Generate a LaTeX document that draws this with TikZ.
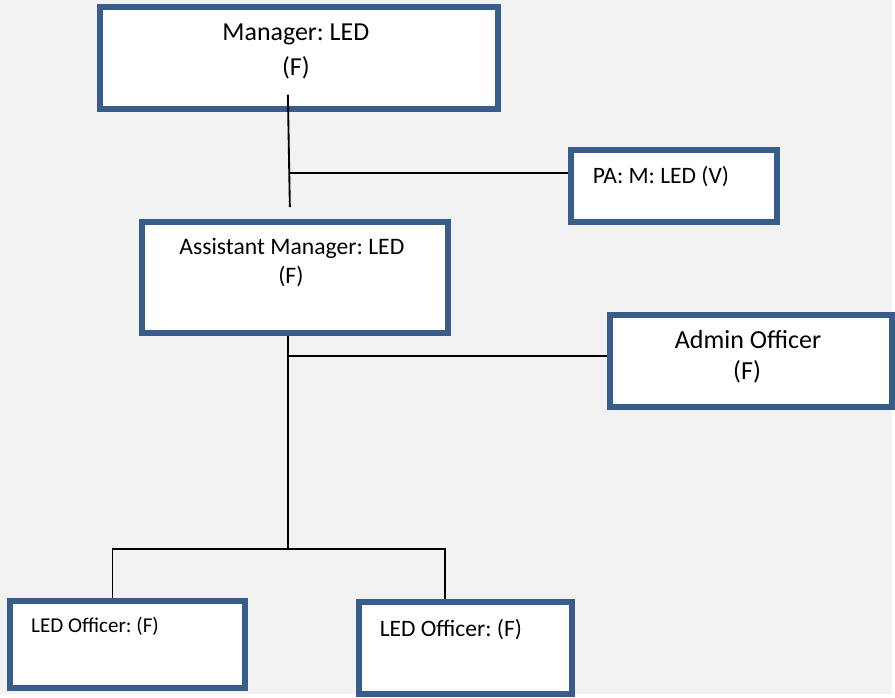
\documentclass[tikz,border=0pt]{standalone}
\usepackage{fontspec}
\setmainfont{Carlito}
\frenchspacing
\definecolor{boxblue}{HTML}{385D8A}
\definecolor{pagegrey}{HTML}{F2F2F2}

\begin{document}
\begin{tikzpicture}[x=0.75pt,y=-0.75pt,
    post/.style={draw=boxblue, line width=4.5pt, fill=white, inner sep=0pt, anchor=north west},
    link/.style={line width=1.4pt},
    txt/.style={inner sep=0pt, anchor=base},
    txtl/.style={inner sep=0pt, anchor=base west}]

        \fill[pagegrey] (0,0) rectangle (895,697);

        % boxes
        \node[post, minimum width=400*0.75pt, minimum height=101.5*0.75pt] (mgr) at (97,4.5) {};
        \node[post, minimum width=207*0.75pt, minimum height=72*0.75pt] (pa) at (570,148) {};
        \node[post, minimum width=307.5*0.75pt, minimum height=112*0.75pt] (asst) at (139.5,219.5) {};
        \node[post, minimum width=283.5*0.75pt, minimum height=93*0.75pt] (admin) at (609,313) {};
        \node[post, minimum width=235*0.75pt, minimum height=87.5*0.75pt] (led1) at (7.5,600.5) {};
        \node[post, minimum width=213.5*0.75pt, minimum height=93*0.75pt] (led2) at (357.5,601) {};

        % texts
        \node[txt, font=\fontsize{19.5}{23}\selectfont] (mgrname) at (297,41) {Manager: LED};
        \node[txt, font=\fontsize{19.5}{23}\selectfont] (mgrtype) at (297,76) {(F)};
        \node[txtl, font=\fontsize{17.7}{21}\selectfont] (paname) at (595,184) {PA: M: LED (V)};
        \node[txt, font=\fontsize{17.8}{21}\selectfont] (asstname) at (293,255) {Assistant Manager: LED};
        \node[txt, font=\fontsize{17.8}{21}\selectfont] (assttype) at (292,285) {(F)};
        \node[txt, font=\fontsize{19.6}{23}\selectfont] (adminname) at (751,350) {Admin Officer};
        \node[txt, font=\fontsize{19.6}{23}\selectfont] (admintype) at (750,381) {(F)};
        \node[txtl, font=\fontsize{15.9}{19}\selectfont] (ledname1) at (31,635) {LED Officer: (F)};
        \node[txtl, font=\fontsize{17.7}{21}\selectfont] (ledname2) at (381,639) {LED Officer: (F)};

        % connectors
        \coordinate (mgrstem) at (289,95);
        \coordinate (mgrfoot) at (291,208);
        \coordinate (pajoin) at (290,174);
        \coordinate (asstfoot) at (289,552);
        \coordinate (adminjoin) at (289,357);
        \coordinate (lefthook) at (113,551);
        \coordinate (righthook) at (447,551);

        \draw[link] (mgrstem) -- (mgrfoot);
        \draw[link] (pajoin) -- (pajoin -| pa.west);
        \draw[link] (asst.south -| asstfoot) -- (asstfoot);
        \draw[link] (adminjoin) -- (adminjoin -| admin.west);
        \draw[link] (led1.north -| lefthook) -- (lefthook) -- (righthook) -- (led2.north -| righthook);

\end{tikzpicture}
\end{document}
